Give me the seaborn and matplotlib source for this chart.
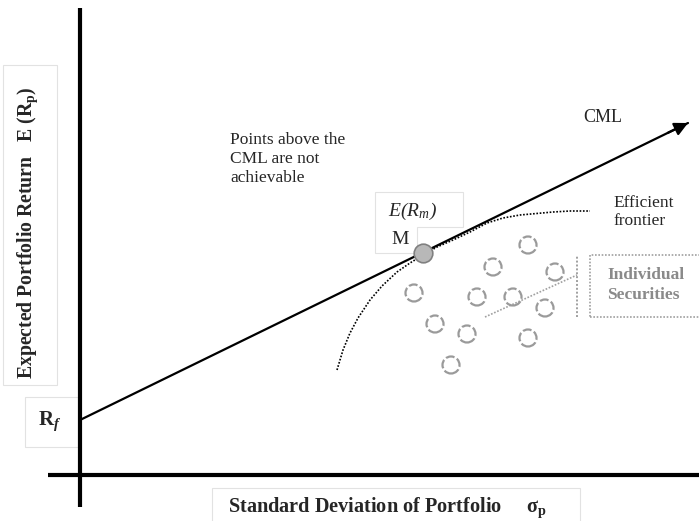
import numpy as np
import pandas as pd
import seaborn as sns
import matplotlib
matplotlib.use("Agg")
import matplotlib.pyplot as plt
from matplotlib.patches import Rectangle, Polygon

# ---- data (diagram coordinates: x = risk sigma_p, y = expected return) ----
cml_x = [0, 608]
cml_y = [55, 352]

frontier_x = [257, 263, 270, 278, 290, 302, 317, 330, 343, 357, 373, 390, 407, 423, 440, 473, 490, 510]
frontier_y = [105, 125, 142, 157, 175, 189, 203, 212, 220, 228, 235, 243, 252, 257, 260, 263, 264, 264]

market_x = [343]
market_y = [222]

sec_x = [448, 413, 475, 334, 397, 433, 465, 355, 387, 448, 371]
sec_y = [230, 208, 203, 182, 178, 178, 167, 151, 141, 137, 110]

# ---- styling ----
sns.set_theme(style="white")
plt.rcParams["font.family"] = ["Liberation Serif", "DejaVu Serif"]
plt.rcParams["mathtext.fontset"] = "custom"
plt.rcParams["mathtext.rm"] = "Liberation Serif"
plt.rcParams["mathtext.it"] = "Liberation Serif:italic"
plt.rcParams["mathtext.bf"] = "Liberation Serif:bold"
plt.rcParams["mathtext.sf"] = "Liberation Serif:bold:italic"
plt.rcParams["mathtext.fallback"] = "stix"

fig = plt.figure(figsize=(6.99, 5.21), dpi=100)
ax = fig.add_axes([0, 0, 1, 1])
ax.set_xlim(-80, 619)
ax.set_ylim(-46, 475)
ax.axis("off")

# axes lines
ax.plot([0, 0], [-32, 467], color="black", lw=3.0, solid_capstyle="butt")
ax.plot([-32, 619], [0, 0], color="black", lw=3.0, solid_capstyle="butt")

# CML
cml = pd.DataFrame({"sigma": cml_x, "ret": cml_y})
sns.lineplot(data=cml, x="sigma", y="ret", ax=ax, color="black", lw=1.6)
ax.annotate("", xy=(cml_x[1], cml_y[1]), xytext=(cml_x[1] - 20, cml_y[1] - 20 * 297 / 608),
            arrowprops=dict(arrowstyle="-|>", color="black", lw=1.6,
                            mutation_scale=20, shrinkA=0, shrinkB=0))

# efficient frontier
fr = pd.DataFrame({"sigma": frontier_x, "ret": frontier_y})
sns.lineplot(data=fr, x="sigma", y="ret", ax=ax, sort=False, color="black",
             lw=1.2, linestyle=(0, (1, 1)))

# individual securities
sec = pd.DataFrame({"sigma": sec_x, "ret": sec_y})
sns.scatterplot(data=sec, x="sigma", y="ret", ax=ax, s=150, facecolor="none",
                edgecolor="#9a9a9a", linewidth=1.6, linestyle=(0, (4, 1.2)), zorder=3)

# market portfolio
mk = pd.DataFrame({"sigma": market_x, "ret": market_y})
sns.scatterplot(data=mk, x="sigma", y="ret", ax=ax, s=180, color="#b8b8b8",
                edgecolor="#808080", linewidth=1.2, zorder=4)

# pointer lines for Individual Securities
ax.plot([405, 497], [158, 200], color="#a0a0a0", lw=1.2, linestyle=(0, (1, 1)))
ax.plot([497, 497], [158, 220], color="#a0a0a0", lw=1.4, linestyle=(0, (1, 1)))
ax.add_patch(Rectangle((510, 158), 120, 62, fill=False, edgecolor="#a0a0a0",
                       lw=1.2, linestyle=(0, (1, 1))))

# light text boxes
light = "#e2e2e2"
ax.add_patch(Rectangle((-77, 90), 54, 320, fill=False, edgecolor=light, lw=0.8))
ax.add_patch(Rectangle((-55, 28), 53, 50, fill=False, edgecolor=light, lw=0.8))
ax.add_patch(Rectangle((132, -60), 368, 47, fill=False, edgecolor=light, lw=0.8))
ax.add_patch(Polygon([(295, 283), (383, 283), (383, 248), (337, 248), (337, 222), (295, 222)],
                     closed=True, fill=False, edgecolor=light, lw=0.8))

# texts
ax.text(-52, 242, r"Expected Portfolio Return   $\mathbf{E\ (R_p)}$", rotation=90,
        ha="center", va="center", fontsize=14.2, fontweight="bold")
ax.text(-30, 54, r"$\mathbf{R}_{\mathsf{f}}$", ha="center", va="center", fontsize=15)
ax.text(148, -33, r"Standard Deviation of Portfolio     $\mathbf{\sigma_p}$",
        ha="left", va="center", fontsize=14.6, fontweight="bold")
ax.text(150, 343, "Points above the\nCML are not\nachievable", ha="left", va="top",
        fontsize=12.5, linespacing=1.25)
ax.text(503, 358, "CML", ha="left", va="center", fontsize=13)
ax.text(533, 263, "Efficient\nfrontier", ha="left", va="center", fontsize=12.5,
        linespacing=1.2)
ax.text(308, 264, r"E(R$_{m}$)", ha="left", va="center", fontsize=14, fontstyle="italic")
ax.text(311, 235, "M", ha="left", va="center", fontsize=14)
ax.text(527, 190, "Individual\nSecurities", ha="left", va="center", fontsize=12.5,
        fontweight="bold", color="#8a8a8a", linespacing=1.35)

fig.savefig("out.png", dpi=100)
